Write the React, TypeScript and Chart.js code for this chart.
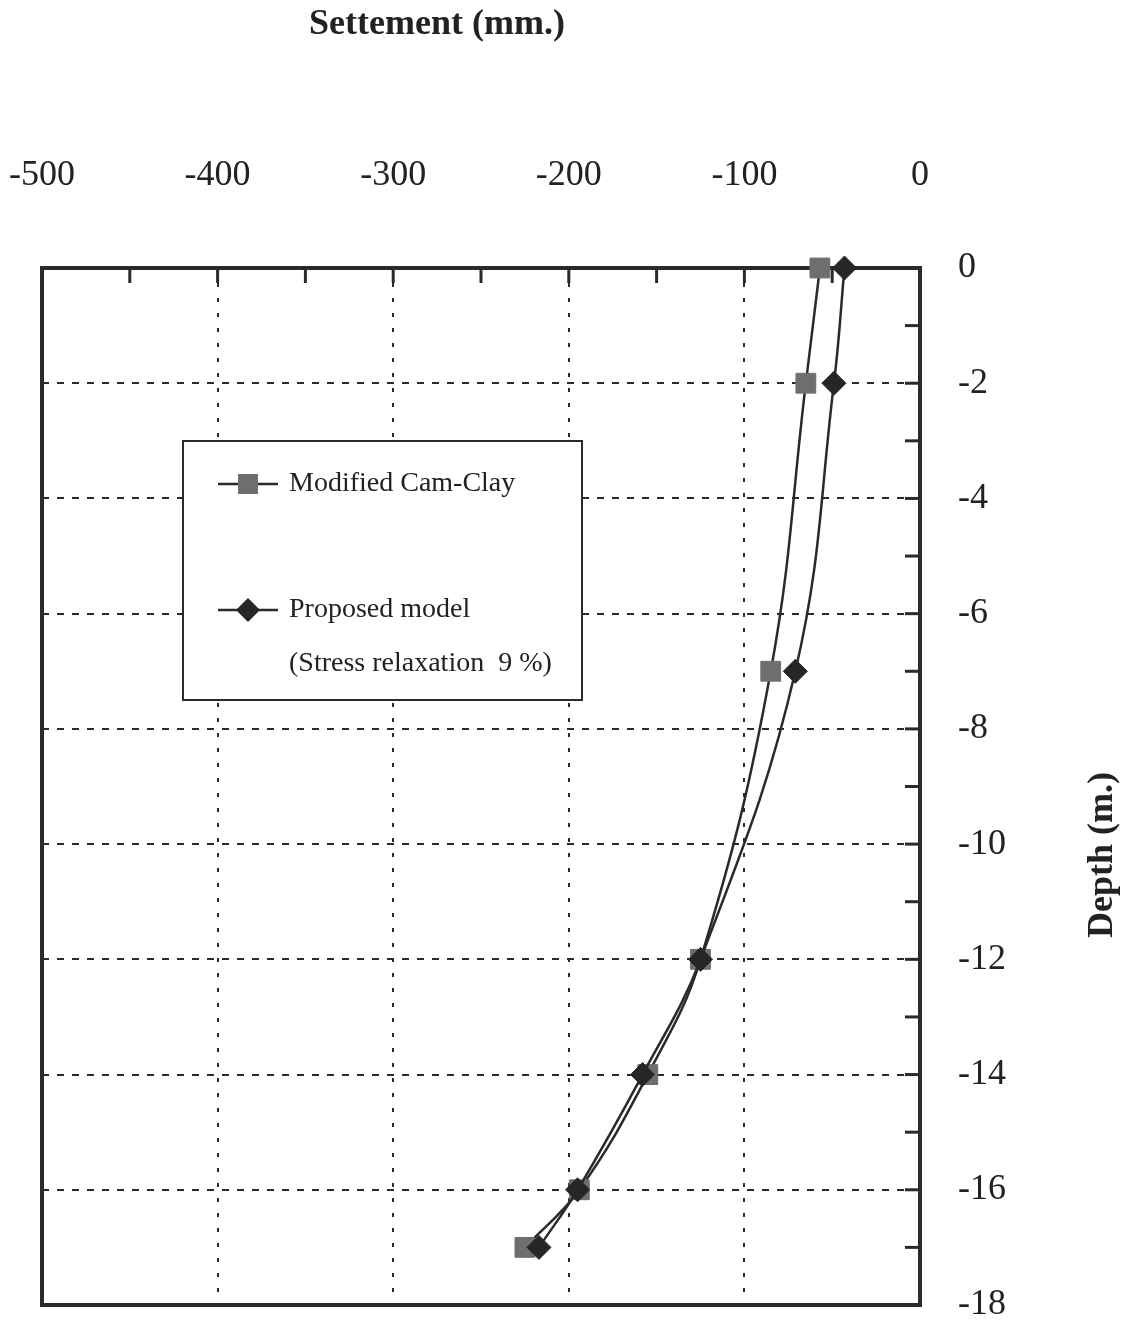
import React, { useEffect, useRef } from 'react';
import { Chart, registerables } from 'chart.js';

Chart.register(...registerables);

const depths = [0, -2, -7, -12, -14, -16, -17];
const camClaySettlement = [-57, -65, -85, -125, -155, -194, -225];
const proposedSettlement = [-43, -49, -71, -125, -158, -195, -217];
const xTitle = 'Settement (mm.)';
const yTitle = 'Depth (m.)';
const legendLabels = ['Modified Cam-Clay', 'Proposed model', '(Stress relaxation  9 %)'];

const INK = '#2a2a2a';
const SERIF = '"Liberation Serif", "DejaVu Serif", serif';

const decor = {
  id: 'decor',
  beforeDatasetsDraw(chart: any) {
    const { ctx, chartArea: a, scales } = chart;
    const xs = scales.x;
    const ys = scales.y;
    ctx.save();
    ctx.strokeStyle = INK;
    ctx.lineCap = 'butt';
    // inward ticks
    ctx.lineWidth = 3;
    for (let v = -450; v < 0; v += 50) {
      const px = xs.getPixelForValue(v);
      ctx.beginPath();
      ctx.moveTo(px, a.top);
      ctx.lineTo(px, a.top + 15);
      ctx.stroke();
    }
    for (let d = -1; d > -18; d--) {
      const py = ys.getPixelForValue(d);
      ctx.beginPath();
      ctx.moveTo(a.right - 15, py);
      ctx.lineTo(a.right, py);
      ctx.stroke();
    }
    // frame
    ctx.lineWidth = 4;
    ctx.strokeRect(a.left, a.top, a.right - a.left, a.bottom - a.top);

    // legend box
    const lx = a.left + 141;
    const ly = a.top + 173;
    const lw = 399;
    const lh = 259;
    ctx.fillStyle = '#ffffff';
    ctx.fillRect(lx, ly, lw, lh);
    ctx.lineWidth = 2;
    ctx.strokeRect(lx, ly, lw, lh);

    const rows = [ly + 43, ly + 169, ly + 223];
    ctx.lineWidth = 2.5;
    for (let i = 0; i < 2; i++) {
      const yy = rows[i];
      ctx.strokeStyle = INK;
      ctx.beginPath();
      ctx.moveTo(lx + 35, yy);
      ctx.lineTo(lx + 95, yy);
      ctx.stroke();
      if (i === 0) {
        ctx.fillStyle = '#6e6e6e';
        ctx.fillRect(lx + 65 - 10, yy - 10, 20, 20);
      } else {
        ctx.fillStyle = '#262626';
        ctx.beginPath();
        ctx.moveTo(lx + 65, yy - 12);
        ctx.lineTo(lx + 77, yy);
        ctx.lineTo(lx + 65, yy + 12);
        ctx.lineTo(lx + 53, yy);
        ctx.closePath();
        ctx.fill();
      }
    }
    ctx.fillStyle = '#222';
    ctx.font = `28px ${SERIF}`;
    ctx.textAlign = 'left';
    ctx.textBaseline = 'middle';
    legendLabels.forEach((t, i) => ctx.fillText(t, lx + 106, rows[i]));
    ctx.restore();
  },
  afterDraw(chart: any) {
    const { ctx, chartArea: a } = chart;
    ctx.save();
    ctx.fillStyle = '#222';
    ctx.font = `bold 36px ${SERIF}`;
    ctx.textAlign = 'center';
    ctx.textBaseline = 'middle';
    ctx.fillText(xTitle, a.left + 395, 25);
    ctx.translate(1103, a.top + 587);
    ctx.rotate(-Math.PI / 2);
    ctx.fillText(yTitle, 0, 0);
    ctx.restore();
  },
};

export default function App() {
  const ref = useRef<HTMLCanvasElement | null>(null);
  useEffect(() => {
    if (!ref.current) return;
    const chart = new Chart(ref.current, {
      type: 'scatter',
      data: {
        datasets: [
          {
            label: legendLabels[0],
            data: depths.map((d, i) => ({ x: camClaySettlement[i], y: d })),
            showLine: true,
            tension: 0.4,
            borderColor: INK,
            borderWidth: 2.5,
            pointStyle: 'rect',
            pointRadius: 14,
            pointBackgroundColor: '#6e6e6e',
            pointBorderColor: '#6e6e6e',
            pointBorderWidth: 1,
            clip: false,
            order: 2,
          } as any,
          {
            label: legendLabels[1],
            data: depths.map((d, i) => ({ x: proposedSettlement[i], y: d })),
            showLine: true,
            tension: 0.4,
            borderColor: INK,
            borderWidth: 2.5,
            pointStyle: 'rectRot',
            pointRadius: 12,
            pointBackgroundColor: '#262626',
            pointBorderColor: '#262626',
            pointBorderWidth: 1,
            clip: false,
            order: 1,
          } as any,
        ],
      },
      plugins: [decor],
      options: {
        responsive: false,
        animation: false,
        layout: { autoPadding: false, padding: { left: 42, top: 0, right: 0, bottom: 21 } },
        plugins: { legend: { display: false }, tooltip: { enabled: false } },
        scales: {
          x: {
            type: 'linear',
            position: 'top',
            min: -500,
            max: 0,
            afterFit: (s: any) => { s.height = 268; s.paddingLeft = 0; s.paddingRight = 0; },
            ticks: {
              stepSize: 100,
              padding: 71,
              color: '#222',
              font: { family: SERIF, size: 36 },
            },
            grid: { color: INK, lineWidth: 2, drawTicks: false },
            border: { display: false, dash: [4, 11] },
          },
          y: {
            type: 'linear',
            position: 'right',
            min: -18,
            max: 0,
            afterFit: (s: any) => { s.width = 213; s.paddingTop = 0; s.paddingBottom = 0; },
            ticks: {
              stepSize: 2,
              padding: 38,
              color: '#222',
              font: { family: SERIF, size: 36 },
            },
            grid: { color: INK, lineWidth: 2, drawTicks: false },
            border: { display: false, dash: [7, 8] },
          },
        },
      } as any,
    });
    return () => chart.destroy();
  }, []);
  return (
    <canvas
      ref={ref}
      width={1133}
      height={1326}
      style={{ position: 'absolute', left: 0, top: 0, display: 'block', background: '#fff' }}
    />
  );
}
